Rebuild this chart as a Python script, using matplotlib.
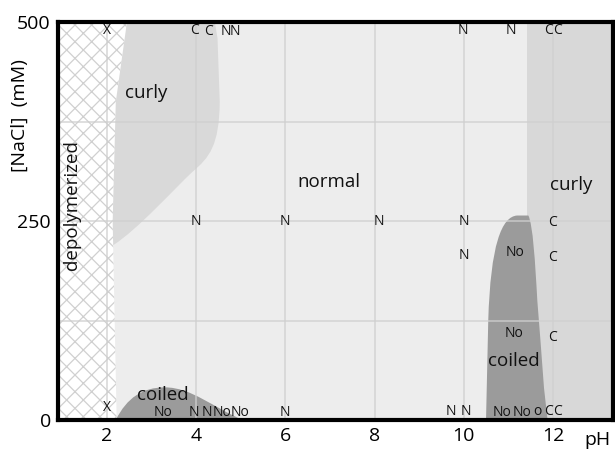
"""Phase diagram: filament shape vs pH and [NaCl]."""

import matplotlib
matplotlib.use("Agg")
import matplotlib.pyplot as plt
from matplotlib.path import Path
from matplotlib.patches import PathPatch, Polygon

plt.rcParams['font.family'] = ['Open Sans', 'DejaVu Sans']
plt.rcParams['hatch.linewidth'] = 0.9

# =============================================================================
# axis
ph_ticks = [2, 4, 6, 8, 10, 12]
nacl_ticks = [0, 250, 500]
ph_grid = [2, 4, 6, 8, 10, 12]
nacl_grid = [125, 250, 375]

# observed points (pH, NaCl mM, label)
obs_ph = [2.0, 3.97, 4.28, 4.66, 4.88, 9.98, 11.06, 11.9, 12.1,
          4.0, 6.0, 8.1, 10.0, 12.0,
          10.0, 11.15, 12.0,
          11.13, 12.0,
          2.0, 3.25, 3.95, 4.24, 4.57, 4.98, 6.0, 9.72, 10.05,
          10.86, 11.3, 11.66, 11.9, 12.1]
obs_nacl = [490, 490, 488, 488, 488, 490, 490, 490, 490,
            249, 249, 249, 250, 248,
            207, 211, 204,
            109, 104,
            16, 10, 9, 9, 9, 9, 10, 11, 11,
            10, 9, 11, 11, 11]
obs_label = ['X', 'C', 'C', 'N', 'N', 'N', 'N', 'C', 'C',
             'N', 'N', 'N', 'N', 'C',
             'N', 'No', 'C',
             'No', 'C',
             'X', 'No', 'N', 'N', 'No', 'No', 'N', 'N', 'N',
             'No', 'No', 'o', 'C', 'C']

# region outlines
depol_ph = [0.9, 2.22, 2.13, 2.2, 2.45, 0.9]
depol_nacl = [0, 0, 250, 400, 500, 500]

curly_right_ph = [11.42, 13.4]

curly_left = [(2.0, 500), (4.42, 500), (4.48, 480), (4.53, 400),
              (4.52, 345), (4.3, 330), (3.92, 312),
              (3.5, 290), (2.7, 240), (2.15, 220),
              (2.0, 220), (2.0, 500)]
curly_left_codes = [Path.MOVETO, Path.LINETO, Path.LINETO, Path.LINETO,
                    Path.CURVE4, Path.CURVE4, Path.CURVE4,
                    Path.CURVE4, Path.CURVE4, Path.CURVE4,
                    Path.LINETO, Path.CLOSEPOLY]

coiled_left = [(2.2, 0), (2.45, 28), (2.8, 41), (3.3, 41),
               (3.9, 41), (4.4, 15), (5.05, 0), (2.2, 0)]
coiled_left_codes = [Path.MOVETO, Path.CURVE4, Path.CURVE4, Path.CURVE4,
                     Path.CURVE4, Path.CURVE4, Path.CURVE4, Path.CLOSEPOLY]

coiled_right = [(10.5, 0), (10.55, 125), (10.6, 220), (10.85, 256),
                (11.2, 257), (11.45, 257), (11.55, 245), (11.6, 200),
                (11.65, 150), (11.72, 100), (11.8, 40), (11.88, 0),
                (10.5, 0)]
coiled_right_codes = [Path.MOVETO, Path.LINETO, Path.CURVE4, Path.CURVE4,
                      Path.CURVE4, Path.LINETO, Path.CURVE4, Path.CURVE4,
                      Path.CURVE4, Path.LINETO, Path.LINETO, Path.LINETO,
                      Path.CLOSEPOLY]

# region names (pH, NaCl, text, rotation)
names = [(2.89, 411, 'curly', 0), (6.97, 299, 'normal', 0),
         (12.4, 295, 'curly', 0), (3.25, 31, 'coiled', 0),
         (11.13, 74, 'coiled', 0), (1.22, 270, 'depolymerized', 90)]

# =============================================================================
fig = plt.figure(figsize=(6.15, 4.5), dpi=100)
ax = fig.add_axes([0.094, 0.0667, 0.903, 0.884])
ax.set_xlim(0.9, 13.35)
ax.set_ylim(0, 500)
ax.set_facecolor('#ededed')

ax.axvspan(curly_right_ph[0], curly_right_ph[1], color='#d8d8d8', lw=0, zorder=1)
ax.add_patch(PathPatch(Path(curly_left, curly_left_codes),
                       facecolor='#d9d9d9', lw=0, zorder=1))
ax.add_patch(Polygon(list(zip(depol_ph, depol_nacl)), closed=True,
                     facecolor='white', edgecolor='#d0d0d0', hatch='xx',
                     lw=0, zorder=1.2))
ax.add_patch(PathPatch(Path(coiled_left, coiled_left_codes),
                       facecolor='#9b9b9b', lw=0, zorder=1.5))
ax.add_patch(PathPatch(Path(coiled_right, coiled_right_codes),
                       facecolor='#9b9b9b', lw=0, zorder=1.5))

for x in ph_grid:
    ax.axvline(x, color='#cfcfcf', lw=1.2, alpha=0.8, zorder=2)
for y in nacl_grid:
    ax.axhline(y, color='#cfcfcf', lw=1.2, alpha=0.8, zorder=2)

for x, y, s in zip(obs_ph, obs_nacl, obs_label):
    ax.text(x, y, s, fontsize=10, ha='center', va='center', color='#111111',
            zorder=4)

for x, y, s, rot in names:
    ax.text(x, y, s, fontsize=13.5, ha='center', va='center', rotation=rot,
            color='#111111', zorder=4)

ax.set_xticks(ph_ticks)
ax.set_yticks(nacl_ticks)
ax.tick_params(length=0, labelsize=14, pad=5)
for sp in ax.spines.values():
    sp.set_linewidth(3)
    sp.set_color('black')
    sp.set_zorder(5)

fig.text(20 / 615, 1 - 116 / 450, '[NaCl]  (mM)', rotation=90, fontsize=14,
         ha='center', va='center')
fig.text(597 / 615, 1 - 440 / 450, 'pH', fontsize=14, ha='center',
         va='center')

fig.savefig('out.png', dpi=100)
print("Finished.")
